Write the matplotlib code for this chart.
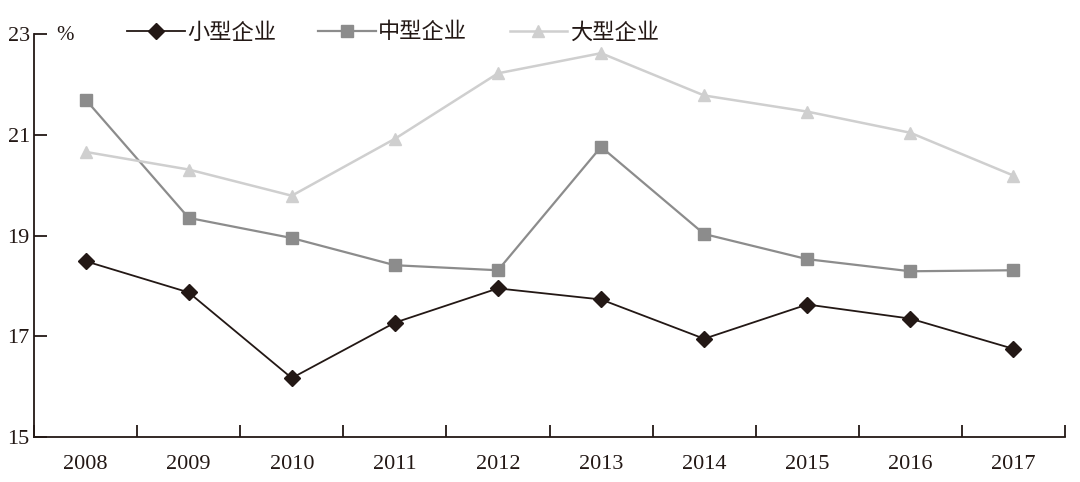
import matplotlib
matplotlib.use("Agg")
import matplotlib.pyplot as plt
import numpy as np

years = ["2008", "2009", "2010", "2011", "2012", "2013", "2014", "2015", "2016", "2017"]
small = [18.49, 17.87, 16.17, 17.27, 17.95, 17.73, 16.95, 17.63, 17.35, 16.75]
medium = [21.70, 19.35, 18.95, 18.41, 18.31, 20.76, 19.03, 18.53, 18.29, 18.31]
large = [20.66, 20.31, 19.79, 20.92, 22.22, 22.62, 21.78, 21.46, 21.04, 20.19]
names = ["小型企业", "中型企业", "大型企业"]

plt.rcParams['font.family'] = ['Liberation Serif', 'Noto Sans CJK SC']

fig = plt.figure(figsize=(10.8, 4.82), dpi=100)
ax = fig.add_axes([0.0315, 0.0934, 0.9546, 0.836])

x = np.arange(len(years))
ax.plot(x, small, color='#231815', marker='D', markersize=8, linewidth=1.3, label=names[0])
ax.plot(x, medium, color='#8c8c8c', marker='s', markersize=8, linewidth=1.6, label=names[1])
ax.plot(x, large, color='#cfcfcf', marker='^', markersize=9, linewidth=1.8, label=names[2])

ax.set_xlim(-0.5, len(years) - 0.5)
ax.set_ylim(15, 23)
ax.set_yticks([15, 17, 19, 21, 23])
ax.set_xticks(x)
ax.set_xticklabels(years)
ax.set_xticks(np.arange(-0.5, len(years), 1.0), minor=True)
ax.tick_params(axis='x', which='major', length=0, pad=13, labelsize=16, labelcolor='#231815')
ax.tick_params(axis='x', which='minor', direction='in', length=9, width=1.3, color='#231815')
ax.tick_params(axis='y', direction='in', length=9, width=1.3, color='#231815', labelsize=16,
               pad=3, labelcolor='#231815')
for s in ['top', 'right']:
    ax.spines[s].set_visible(False)
for s in ['left', 'bottom']:
    ax.spines[s].set_color('#231815')
    ax.spines[s].set_linewidth(1.3)

fig.text(65 / 1080, 1 - 35 / 482, '%', fontsize=15, va='center', ha='center', color='#231815')

leg = fig.legend(loc='center left', bbox_to_anchor=(116 / 1080, 1 - 32 / 482), ncol=3, frameon=False,
                 prop={'family': ['Noto Sans CJK SC'], 'size': 16}, borderpad=0,
                 handlelength=2.6, columnspacing=1.9, handletextpad=0.1)
for t in leg.get_texts():
    t.set_color('#231815')

fig.savefig('out.png', dpi=100)
